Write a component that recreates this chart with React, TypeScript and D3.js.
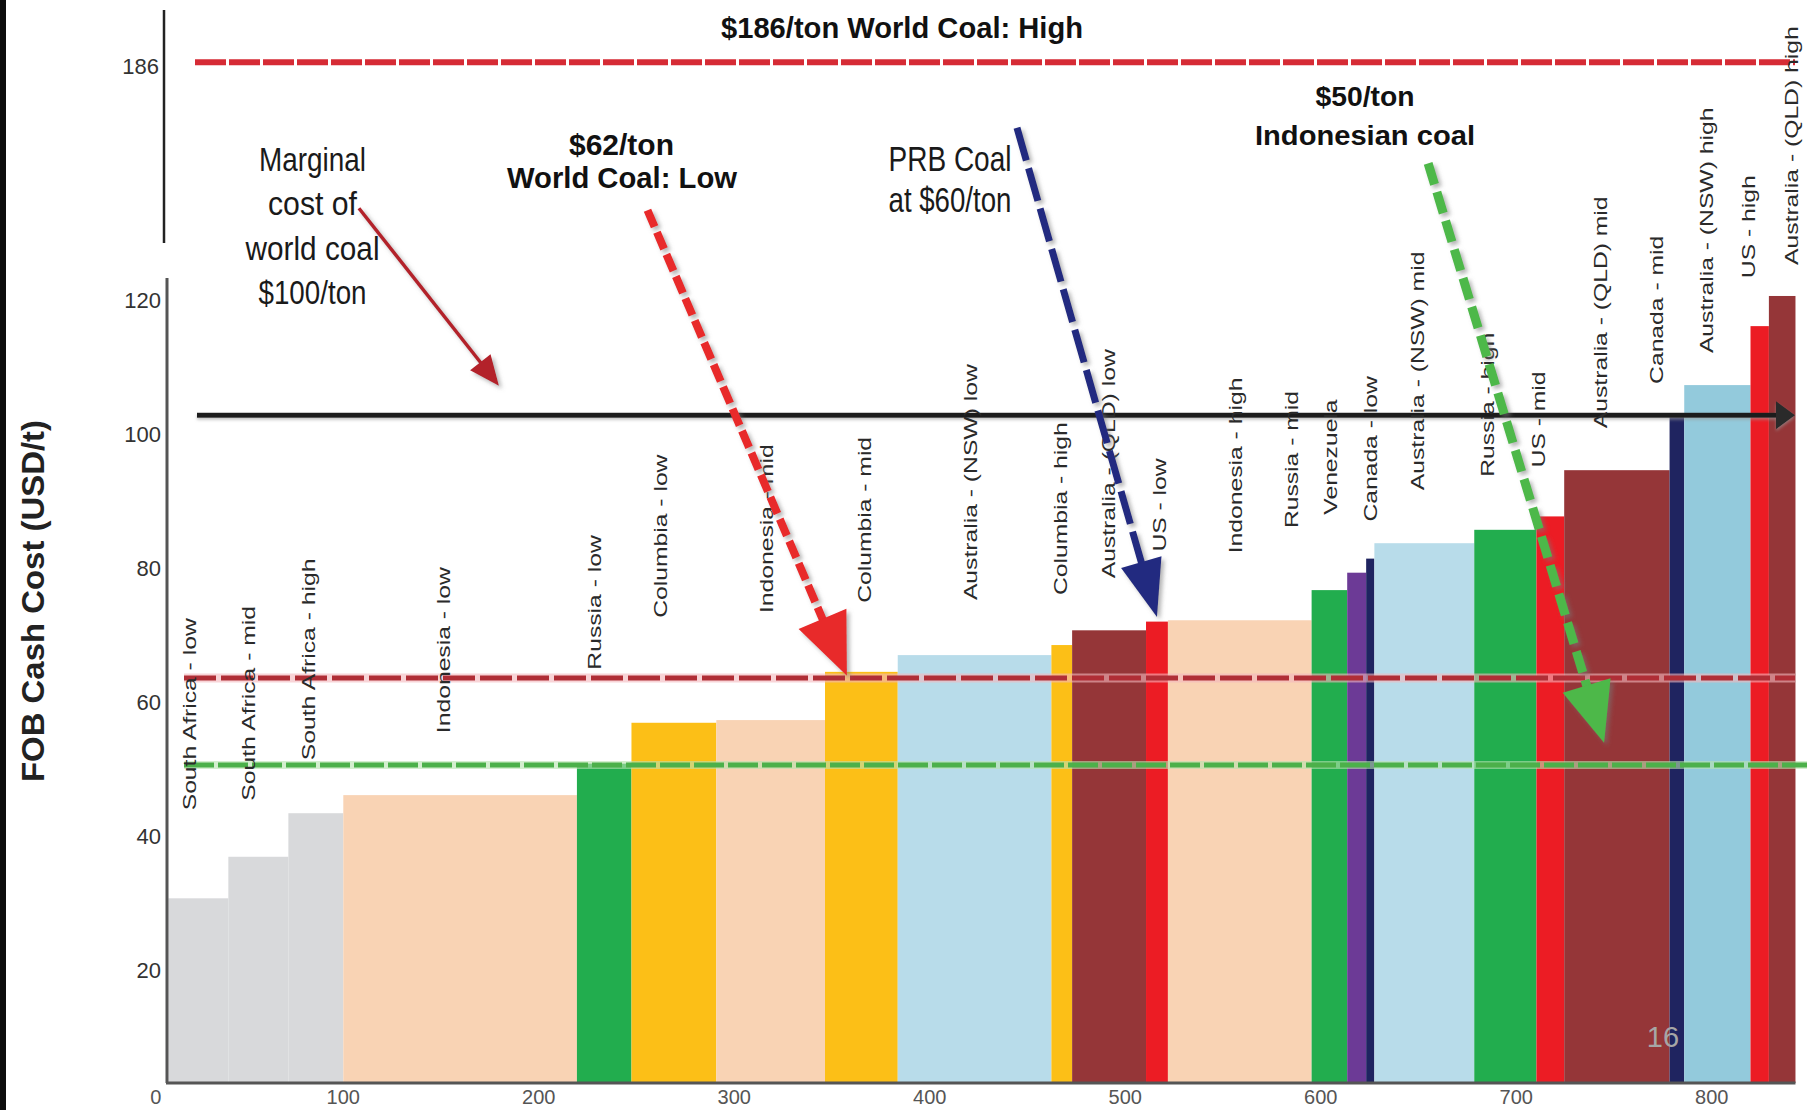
import React from "react";
import * as d3 from "d3";

// FOB cash cost curve for seaborne thermal coal (reconstructed from slide 16)
const categories = [
  "South Africa - low", "South Africa - mid", "South Africa - high", "Indonesia - low",
  "Russia - low", "Columbia - low", "Indonesia - mid", "Columbia - mid",
  "Australia - (NSW) low", "Columbia - high", "Australia - (QLD) low", "US - low",
  "Indonesia - high", "Russia - mid", "Venezuela", "Canada - low",
  "Australia - (NSW) mid", "Russia - high", "US - mid", "Australia - (QLD) mid",
  "Canada - mid", "Australia - (NSW) high", "US - high", "Australia - (QLD) high",
];
// export volume (Mt) = bar width
const volumes = [30.7, 30.7, 28.1, 119.5, 27.9, 43.4, 55.6, 37.2, 78.6, 10.6, 37.8, 11.2,
  73.5, 18.2, 9.7, 4.2, 51.1, 31.8, 14.2, 53.9, 7.5, 33.9, 9.4, 13.6];
// FOB cash cost (USD/t) = bar height
const costs = [30.7, 36.9, 43.4, 46.1, 50.8, 56.9, 57.3, 64.5, 67.0, 68.5, 70.7, 72.0,
  72.2, 76.7, 79.3, 81.4, 83.7, 85.7, 87.7, 94.6, 103.0, 107.3, 116.1, 120.6];
const startVolume = 10.5;

const xTicks = [0, 100, 200, 300, 400, 500, 600, 700, 800];
const yTicks = [20, 40, 60, 80, 100, 120];
const breakTicks = [186];

// price reference lines as drawn (USD/t)
const worldCoalHigh = 186;
const marginalCost = 102.8;
const worldCoalLow = 63.6;
const indonesianCoal = 50.6;

// annotation arrows in data space: [x0, y0, x1, y1]
const marginalArrow = [108.0, 133.7, 179.6, 107.2];
const lowArrow = [255.6, 133.4, 357.6, 63.9];
const prbArrow = [444.6, 145.7, 516.2, 72.7];
const indoArrow = [654.9, 140.4, 744.9, 53.9];

const W = 1807;
const H = 1110;
const baseY = 1083;

const x = d3.scaleLinear().domain([0, 800]).range([147.8, 1711.8]);
const y = d3.scaleLinear().domain([20, 120]).range([970, 300]);
const yBreak = d3.scaleLinear().domain([159, 193.8]).range([243, 10]);

const narrow = "'Liberation Sans Narrow', 'Arial Narrow', 'Liberation Sans', Arial, sans-serif";
const sans = "'Liberation Sans', Arial, sans-serif";

const colorFor = (cat: string) => {
  if (cat === "Australia - (NSW) high") return "#93cadc";
  if (cat.includes("(NSW)")) return "#b8dcea";
  if (cat.includes("(QLD)")) return "#953638";
  if (cat.startsWith("South Africa")) return "#d8d9db";
  if (cat.startsWith("Indonesia")) return "#f9d3b4";
  if (cat.startsWith("Russia")) return "#22ad4e";
  if (cat.startsWith("Columbia")) return "#fcbf17";
  if (cat.startsWith("US")) return "#ec1c24";
  if (cat.startsWith("Venezuela")) return "#6c3a96";
  return "#1f2460"; // Canada
};

// label placement tweaks: [dx from bar centre, lift above bar top] in px
const labelNudge = [
  [-9, 88], [-10, 56], [-8, 53], [-17, 62], [-10, 94], [-14, 105], [-5, 107], [3, 69],
  [-5, 55], [-2, 50], [-1, 52], [2, 70], [-5, 67], [-38, 62], [-27, 58], [0, 37],
  [-7, 53], [-18, 53], [-12, 49], [-17, 42], [-21, 30], [-11, 32], [-12, 48], [9, 31],
];

const Arrow = ({ pts, color, width, dash, headLen, headHalf, filter }: any) => {
  const [x0, y0, x1, y1] = [x(pts[0]), y(pts[1]), x(pts[2]), y(pts[3])];
  const len = Math.hypot(x1 - x0, y1 - y0);
  const ux = (x1 - x0) / len, uy = (y1 - y0) / len;
  const bx = x1 - ux * headLen, by = y1 - uy * headLen;
  const nx = -uy, ny = ux;
  const head = [[x1, y1], [bx + nx * headHalf, by + ny * headHalf], [bx - nx * headHalf, by - ny * headHalf]];
  return (
    <g filter={filter}>
      <line x1={x0} y1={y0} x2={bx + ux * 2} y2={by + uy * 2} stroke={color}
        strokeWidth={width} strokeDasharray={dash} />
      <polygon points={head.map(p => p.join(",")).join(" ")} fill={color} />
    </g>
  );
};

export default function App() {
  const ends = Array.from(d3.cumsum(volumes), v => v + startVolume);
  const bars = categories.map((c, i) => ({
    cat: c,
    x0: i === 0 ? startVolume : ends[i - 1],
    x1: ends[i],
    cost: costs[i],
  }));

  return (
    <svg width={W} height={H} style={{ position: "absolute", left: 0, top: 0, background: "#fff" }}>
      <defs>
        <filter id="shadow" x="-20%" y="-20%" width="140%" height="140%">
          <feDropShadow dx="3" dy="3" stdDeviation="2" floodColor="#777" floodOpacity="0.55" />
        </filter>
        <filter id="glow" x="-5%" y="-100%" width="110%" height="300%">
          <feDropShadow dx="0" dy="2" stdDeviation="1.5" floodColor="#999" floodOpacity="0.6" />
        </filter>
      </defs>
      <rect width={W} height={H} fill="#fff" />
      <rect x={0} y={0} width={6} height={H} fill="#0d0d0d" />

      {/* bars */}
      {bars.map(b => (
        <rect key={b.cat} x={x(b.x0)} y={y(b.cost)} width={x(b.x1) - x(b.x0)}
          height={baseY - y(b.cost)} fill={colorFor(b.cat)} />
      ))}

      {/* axes */}
      <line x1={164} x2={164} y1={10} y2={243} stroke="#222" strokeWidth={2.5} />
      <line x1={167} x2={167} y1={278} y2={baseY} stroke="#555" strokeWidth={3} />
      <line x1={166} x2={x(842.8)} y1={baseY} y2={baseY} stroke="#555" strokeWidth={3} />
      {yTicks.map(t => (
        <text key={t} x={161} y={y(t)} dy="0.35em" textAnchor="end" fontFamily={narrow}
          fontSize={22} fill="#333">{t}</text>
      ))}
      {breakTicks.map(t => (
        <text key={t} x={159} y={yBreak(t) + 4} dy="0.35em" textAnchor="end" fontFamily={narrow}
          fontSize={22} fill="#333">{t}</text>
      ))}
      {xTicks.map(t => (
        <text key={t} x={x(t) + (t === 0 ? 8 : 0)} y={1104} textAnchor="middle" fontFamily={narrow}
          fontSize={20} fill="#555">{t}</text>
      ))}
      <text transform="translate(44,601) rotate(-90)" textAnchor="middle" fontFamily={sans}
        fontWeight="bold" fontSize={32} fill="#222" textLength={362}
        lengthAdjust="spacingAndGlyphs">FOB Cash Cost (USD/t)</text>

      {/* price lines */}
      <line x1={195} x2={1795} y1={yBreak(worldCoalHigh)} y2={yBreak(worldCoalHigh)}
        stroke="#d62b35" strokeWidth={6} strokeDasharray="31 3" />
      <line x1={184} x2={1795} y1={y(worldCoalLow)} y2={y(worldCoalLow)}
        stroke="#f4b8be" strokeWidth={9} opacity={0.6} />
      <line x1={184} x2={1795} y1={y(worldCoalLow)} y2={y(worldCoalLow)}
        stroke="#b02e36" strokeWidth={5} strokeDasharray="32 5" />
      <line x1={184} x2={W} y1={y(indonesianCoal)} y2={y(indonesianCoal)}
        stroke="#b9e3b0" strokeWidth={8} opacity={0.6} />
      <line x1={184} x2={W} y1={y(indonesianCoal)} y2={y(indonesianCoal)}
        stroke="#4cb04a" strokeWidth={5} strokeDasharray="30 4" />
      <g filter="url(#glow)">
        <line x1={197} x2={1778} y1={y(marginalCost)} y2={y(marginalCost)}
          stroke="#1a1a1a" strokeWidth={5} />
        <polygon points={`1795,${y(marginalCost)} 1776,${y(marginalCost) - 14} 1776,${y(marginalCost) + 14}`}
          fill="#2a2a2a" />
      </g>

      {/* category labels */}
      {bars.map((b, i) => {
        const cx = (x(b.x0) + x(b.x1)) / 2 + labelNudge[i][0] + 7;
        const by = y(b.cost) - labelNudge[i][1];
        return (
          <text key={b.cat} transform={`translate(${cx},${by}) rotate(-90) scale(1.3,1)`}
            fontFamily={sans} fontSize={19} fill="#2a2a2a">{b.cat}</text>
        );
      })}

      {/* arrows */}
      <Arrow pts={marginalArrow} color="#b3202a" width={3.5} headLen={30} headHalf={13} filter="url(#shadow)" />
      <Arrow pts={lowArrow} color="#e8292b" width={8} dash="18 6" headLen={62} headHalf={26} filter="url(#shadow)" />
      <Arrow pts={prbArrow} color="#232c80" width={7} dash="34 8" headLen={57} headHalf={21} filter="url(#shadow)" />
      <Arrow pts={indoArrow} color="#4db848" width={9} dash="22 8" headLen={60} headHalf={25} filter="url(#shadow)" />

      {/* annotation texts */}
      <text x={902} y={38} textAnchor="middle" fontFamily={sans} fontWeight="bold" fontSize={29}
        fill="#111" textLength={362} lengthAdjust="spacingAndGlyphs">$186/ton World Coal: High</text>
      {[["Marginal", 171, 107], ["cost of", 215, 89], ["world coal", 260, 134], ["$100/ton", 304, 108]].map(([t, by, tl]) => (
        <text key={t as string} x={312.5} y={by as number} textAnchor="middle" fontFamily={narrow}
          fontSize={34} fill="#1a1a1a" textLength={tl as number} lengthAdjust="spacingAndGlyphs">{t}</text>
      ))}
      <text x={621.5} y={155} textAnchor="middle" fontFamily={sans} fontWeight="bold" fontSize={29}
        fill="#111" textLength={105} lengthAdjust="spacingAndGlyphs">$62/ton</text>
      <text x={622} y={188} textAnchor="middle" fontFamily={sans} fontWeight="bold" fontSize={29}
        fill="#111" textLength={230} lengthAdjust="spacingAndGlyphs">World Coal: Low</text>
      <text x={950} y={171} textAnchor="middle" fontFamily={narrow} fontSize={35}
        fill="#1a1a1a" textLength={123} lengthAdjust="spacingAndGlyphs">PRB Coal</text>
      <text x={950} y={212} textAnchor="middle" fontFamily={narrow} fontSize={35}
        fill="#1a1a1a" textLength={123} lengthAdjust="spacingAndGlyphs">at $60/ton</text>
      <text x={1365} y={106} textAnchor="middle" fontFamily={sans} fontWeight="bold" fontSize={28.5}
        fill="#111" textLength={99} lengthAdjust="spacingAndGlyphs">$50/ton</text>
      <text x={1365} y={145} textAnchor="middle" fontFamily={sans} fontWeight="bold" fontSize={28.5}
        fill="#111" textLength={220} lengthAdjust="spacingAndGlyphs">Indonesian coal</text>

      <text x={1663} y={1047} textAnchor="middle" fontFamily={sans} fontSize={29} fill="#a6a6a6">16</text>
    </svg>
  );
}
